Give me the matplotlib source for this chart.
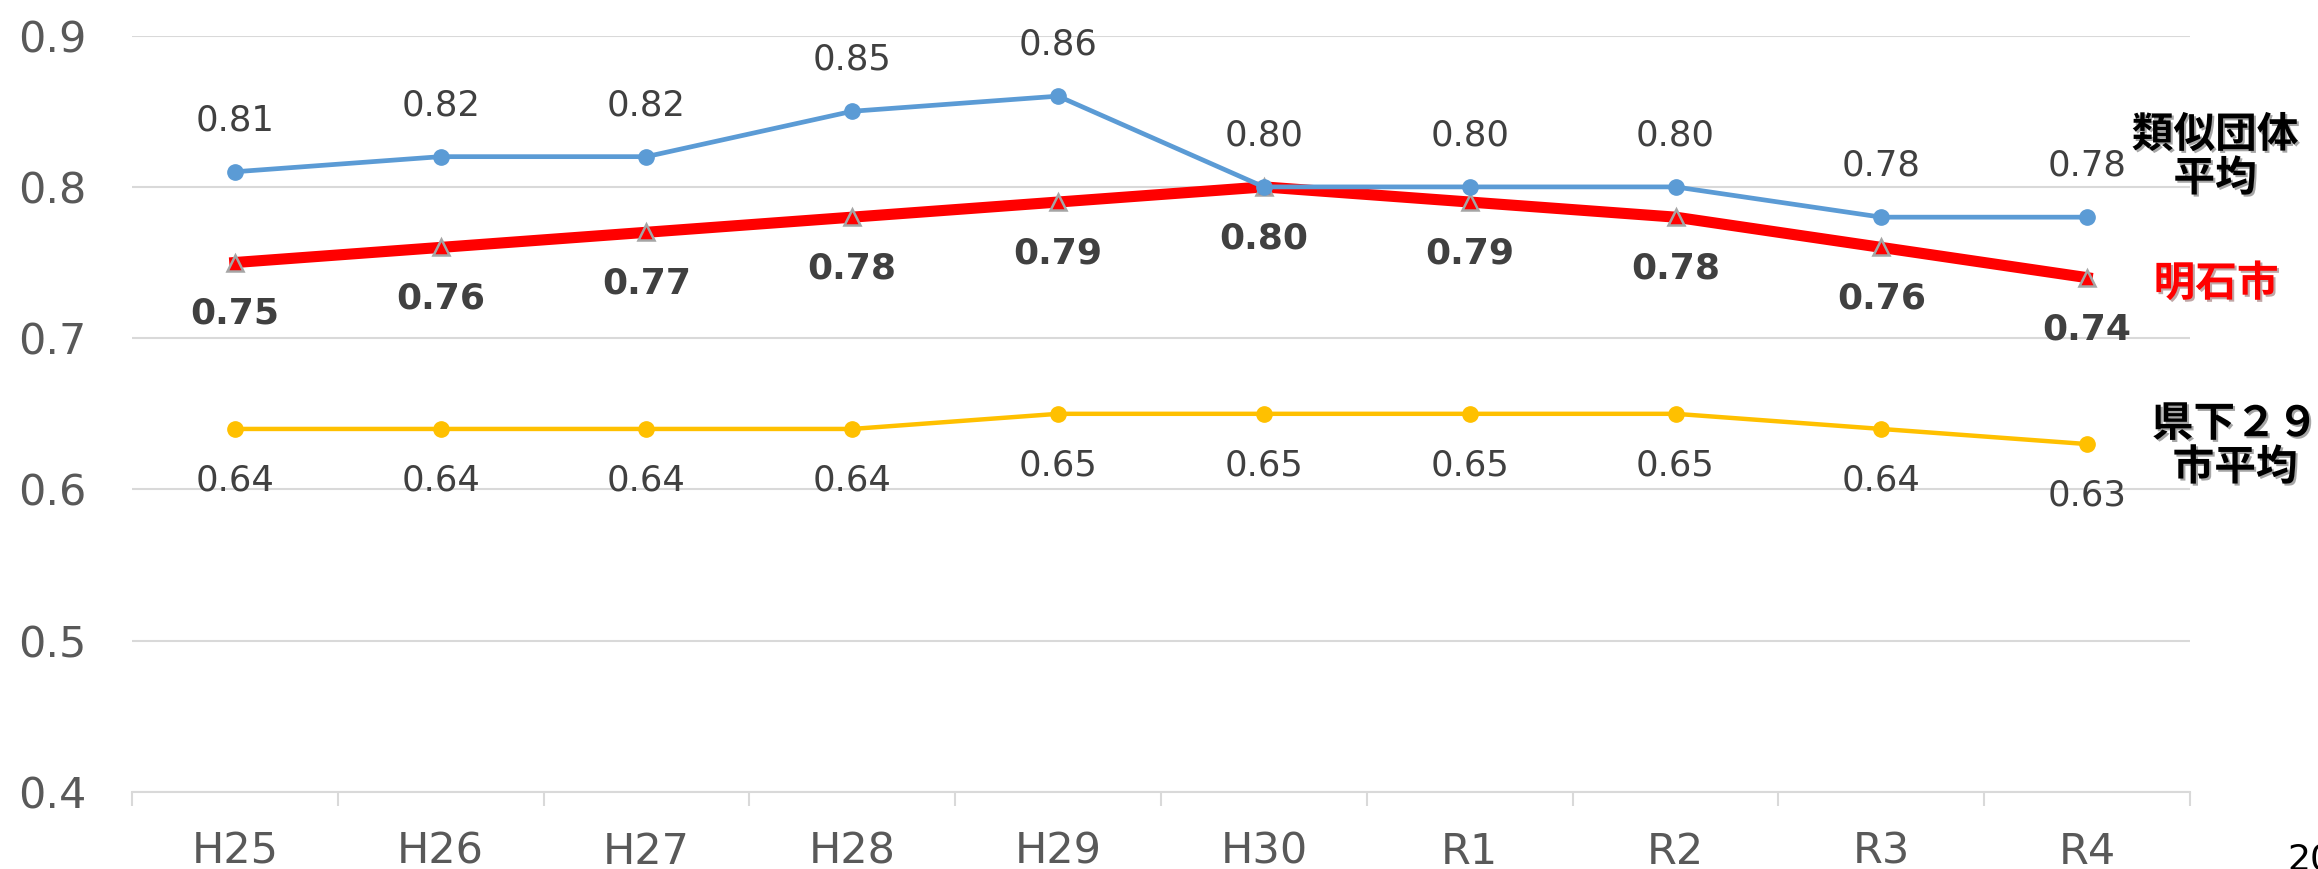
import numpy as np
import matplotlib.pyplot as plt
import matplotlib.patheffects as pe

plt.rcParams['font.family'] = ['DejaVu Sans', 'Noto Sans CJK JP']

years = ['H25', 'H26', 'H27', 'H28', 'H29', 'H30', 'R1', 'R2', 'R3', 'R4']
ruiji = [0.81, 0.82, 0.82, 0.85, 0.86, 0.80, 0.80, 0.80, 0.78, 0.78]
akashi = [0.75, 0.76, 0.77, 0.78, 0.79, 0.80, 0.79, 0.78, 0.76, 0.74]
kenka = [0.64, 0.64, 0.64, 0.64, 0.65, 0.65, 0.65, 0.65, 0.64, 0.63]
yticks = [0.4, 0.5, 0.6, 0.7, 0.8, 0.9]

fig = plt.figure(figsize=(23.18, 8.69), dpi=100)
ax = fig.add_axes([0.0569, 0.0886, 0.8879, 0.8704])
x = np.arange(len(years))

ax.plot(x, kenka, color='#FFC000', lw=3.2, marker='o', ms=11, zorder=3)
ax.plot(x, akashi, color='#FF0000', lw=8, marker='^', ms=11,
        mfc='#FF0000', mec='#A5A5A5', mew=1.8, zorder=4)
ax.plot(x, ruiji, color='#5B9BD5', lw=3.4, marker='o', ms=11, zorder=5)

for i in range(len(years)):
    ax.annotate('%.2f' % ruiji[i], (x[i], ruiji[i]), xytext=(0, 37),
                textcoords='offset points', ha='center', va='center',
                fontsize=25.5, color='#404040')
    ax.annotate('%.2f' % akashi[i], (x[i], akashi[i]), xytext=(0, -37),
                textcoords='offset points', ha='center', va='center',
                fontsize=26, fontweight='bold', color='#404040')
    ax.annotate('%.2f' % kenka[i], (x[i], kenka[i]), xytext=(0, -37),
                textcoords='offset points', ha='center', va='center',
                fontsize=25.5, color='#404040')

ax.set_xlim(-0.5, len(years) - 0.5)
ax.set_ylim(0.4, 0.9)
ax.set_yticks(yticks)
ax.set_yticklabels(['%.1f' % v for v in yticks])
ax.set_xticks(x)
ax.set_xticklabels(years)
ax.set_xticks(np.arange(-0.5, len(years)), minor=True)
ax.tick_params(axis='x', which='major', length=0, pad=28, labelsize=31, labelcolor='#595959')
ax.tick_params(axis='x', which='minor', length=10, width=1.5, color='#D9D9D9')
ax.tick_params(axis='y', length=0, pad=33, labelsize=31, labelcolor='#595959')
ax.grid(axis='y', color='#D9D9D9', lw=1.5)
ax.set_axisbelow(True)
for s in ['top', 'right', 'left']:
    ax.spines[s].set_visible(False)
ax.spines['bottom'].set_color('#D9D9D9')
ax.spines['bottom'].set_linewidth(1.5)

shadow = [pe.withSimplePatchShadow(offset=(1.5, -1.5), alpha=0.35)]
jp = ['Noto Sans CJK JP', 'DejaVu Sans']
fig.text(2215 / 2318, 1 - 157 / 869, '類似団体\n平均', ha='center', va='center',
         fontsize=30, fontweight='bold', family=jp, linespacing=1.05,
         color='black', path_effects=shadow)
fig.text(2216 / 2318, 1 - 284 / 869, '明石市', ha='center', va='center',
         fontsize=30, fontweight='bold', family=jp, color='#FF0000',
         path_effects=shadow)
fig.text(2235 / 2318, 1 - 446 / 869, '県下２９\n市平均', ha='center', va='center',
         fontsize=30, fontweight='bold', family=jp, linespacing=1.05,
         color='black', path_effects=shadow)
fig.text(2287 / 2318, 1 - 843 / 869, '20', ha='left', va='top', fontsize=26,
         family='Liberation Sans Narrow', color='black')

fig.savefig('out.png', dpi=100)
